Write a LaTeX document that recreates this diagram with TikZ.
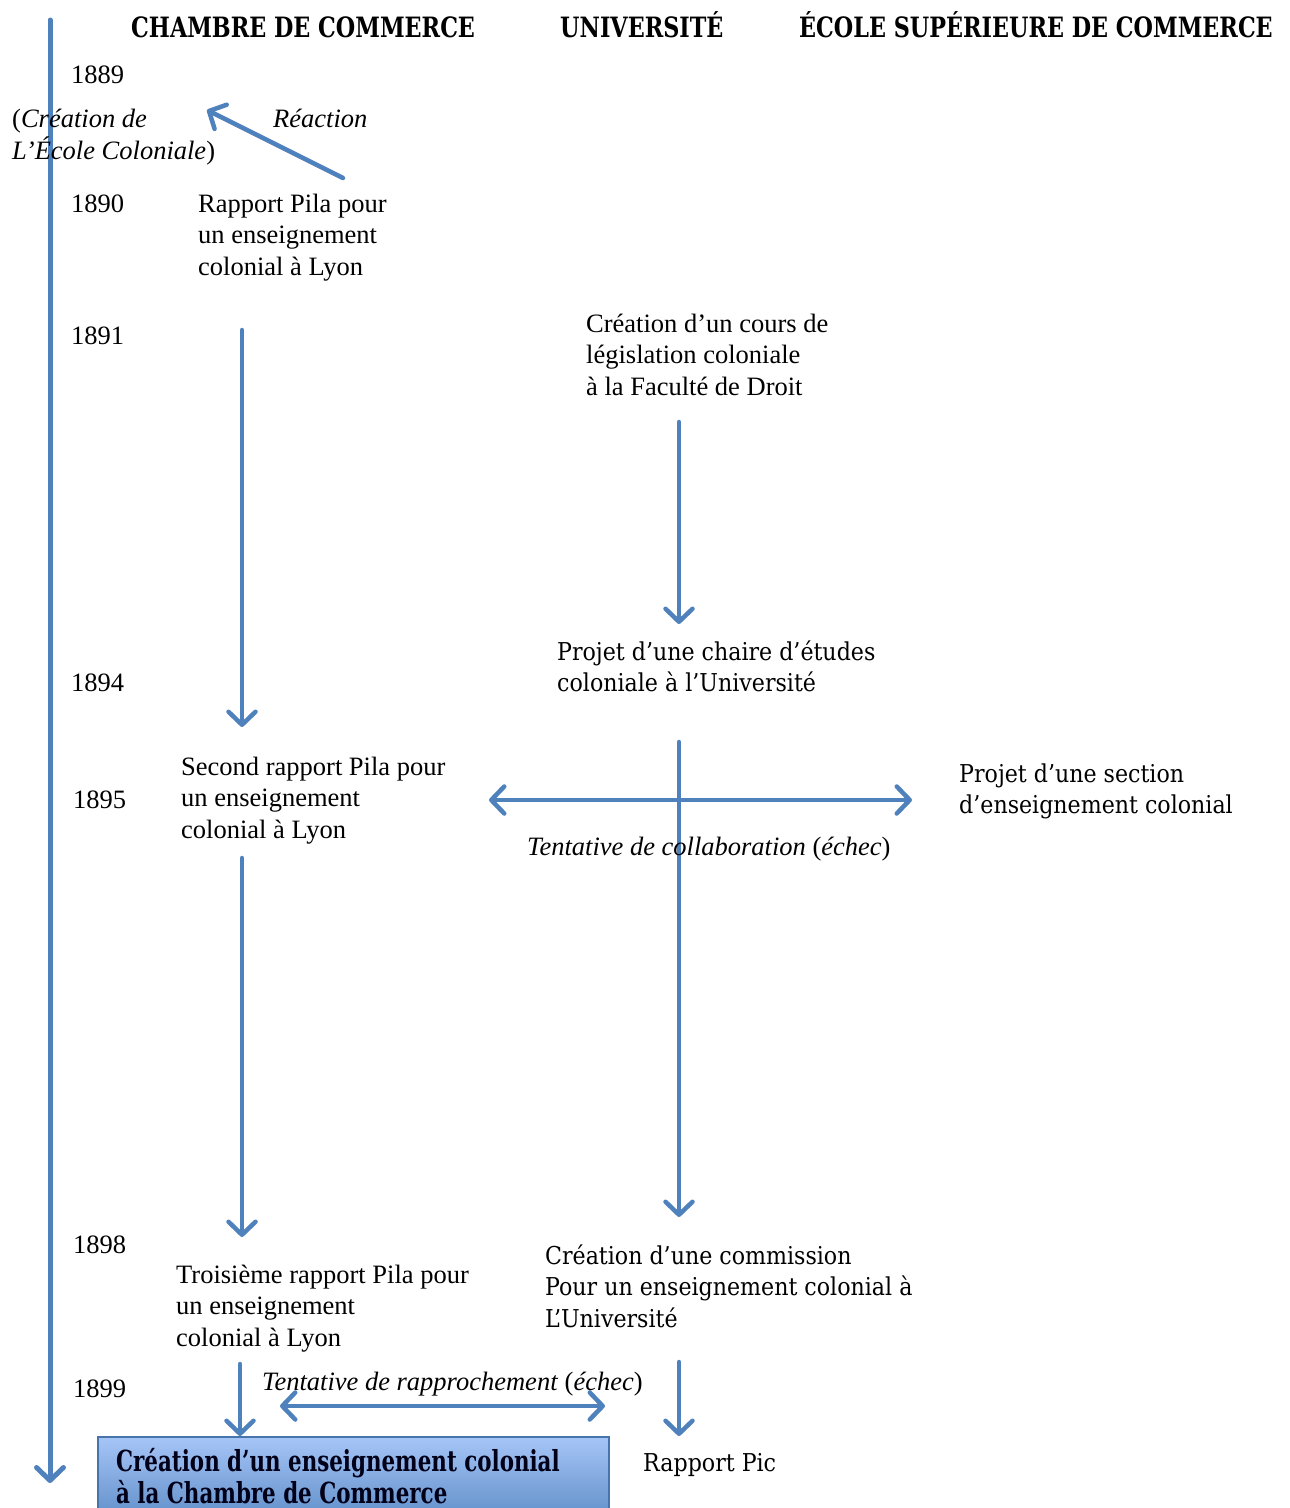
\documentclass[tikz,border=0pt]{standalone}
\usepackage{fontspec}
\setmainfont{Liberation Serif}
\newfontfamily\cambfont{DejaVu Serif Condensed}
\newfontfamily\hdrfont[FakeStretch=0.885]{DejaVu Serif Condensed Bold}
\newfontfamily\boxfont[FakeStretch=0.82]{DejaVu Serif Condensed Bold}
\usetikzlibrary{arrows.meta}
\definecolor{myblue}{HTML}{4F81BD}
\definecolor{boxtop}{HTML}{A6C5F7}
\definecolor{boxbot}{HTML}{4F81BD}
\newcommand\mlines[1]{\begin{tabular}[t]{@{}l@{}}#1\end{tabular}}
\tikzset{
  conn/.style={draw=myblue, line width=4.5pt, line cap=round,
    -{Straight Barb[length=13pt,width=27pt,line cap=round,line join=round]}},
  dconn/.style={draw=myblue, line width=4.5pt, line cap=round,
    {Straight Barb[length=13pt,width=27pt,line cap=round,line join=round]}-{Straight Barb[length=13pt,width=27pt,line cap=round,line join=round]}},
  times/.style={anchor=base west, inner sep=0pt, font=\fontsize{26.5pt}{31.5pt}\selectfont},
  camb/.style={anchor=base west, inner sep=0pt, font=\cambfont\fontsize{24.6pt}{31.5pt}\selectfont},
  hdr/.style={anchor=base west, inner sep=0pt, font=\hdrfont\fontsize{28pt}{30pt}\selectfont},
  yr/.style={times},
}
\begin{document}
\begin{tikzpicture}[x=1pt,y=-1pt]
\useasboundingbox (0,0) rectangle (1290,1508);
\fill[white] (0,0) rectangle (1290,1508);

% headers
\node[hdr] (hcc) at (131,37) {CHAMBRE DE COMMERCE};
\node[hdr] (hun) at (560,37) {UNIVERSITÉ};
\node[hdr] (hesc) at (799,37) {ÉCOLE SUPÉRIEURE DE COMMERCE};

% timeline
\coordinate (tltop) at (50,20);
\coordinate (tlbot) at (50,1483);
\draw[conn, line width=5pt] (tltop) -- (tlbot);

% years
\node[yr] (y1889) at (71,83) {1889};
\node[yr] (y1890) at (71,212) {1890};
\node[yr] (y1891) at (71,344) {1891};
\node[yr] (y1894) at (71,691) {1894};
\node[yr] (y1895) at (73,808) {1895};
\node[yr] (y1898) at (73,1253) {1898};
\node[yr] (y1899) at (73,1397) {1899};

% 1889
\node[times] (ecole) at (12,127) {\mlines{(\textit{Création de}\\\textit{L’École Coloniale})}};
\node[times] (reac) at (273,127) {\textit{Réaction}};
\coordinate (reacA) at (343,178);
\coordinate (reacB) at (207,110);
\draw[conn] (reacA) -- (reacB);

% chambre column
\node[times] (pila1) at (198,212) {\mlines{Rapport Pila pour\\un enseignement\\colonial à Lyon}};
\node[times] (pila2) at (181,775) {\mlines{Second rapport Pila pour\\un enseignement\\colonial à Lyon}};
\node[times] (pila3) at (176,1283) {\mlines{Troisième rapport Pila pour\\un enseignement\\colonial à Lyon}};

\coordinate (c1a) at (242,330); \coordinate (c1b) at (242,727);
\coordinate (c2a) at (242,858); \coordinate (c2b) at (242,1237);
\coordinate (c3a) at (240,1364); \coordinate (c3b) at (240,1436);
\draw[conn] (c1a) -- (c1b);
\draw[conn] (c2a) -- (c2b);
\draw[conn] (c3a) -- (c3b);

% université column
\node[times] (cours) at (586,332) {\mlines{Création d’un cours de\\législation coloniale\\à la Faculté de Droit}};
\node[camb] (chaire) at (557,660) {\mlines{Projet d’une chaire d’études\\coloniale à l’Université}};
\node[camb] (commis) at (545,1264) {\mlines{Création d’une commission\\Pour un enseignement colonial à\\L’Université}};
\node[camb] (pic) at (643,1471) {Rapport Pic};

\coordinate (u1a) at (679,422); \coordinate (u1b) at (679,624);
\coordinate (u2a) at (679,742); \coordinate (u2b) at (679,1217);
\coordinate (u3a) at (679,1362); \coordinate (u3b) at (679,1436);
\draw[conn] (u1a) -- (u1b);
\draw[conn] (u2a) -- (u2b);
\draw[conn] (u3a) -- (u3b);

% ESC
\node[camb] (section) at (959,782) {\mlines{Projet d’une section\\d’enseignement colonial}};

% collaboration
\coordinate (colA) at (489,800); \coordinate (colB) at (912,800);
\draw[dconn] (colA) -- (colB);
\node[times] (collab) at (527,855) {\textit{Tentative de collaboration} (\textit{échec})};

% rapprochement
\coordinate (rapA) at (280,1406); \coordinate (rapB) at (605,1406);
\draw[dconn] (rapA) -- (rapB);
\node[times] (rappro) at (262,1390) {\textit{Tentative de rapprochement} (\textit{échec})};

% final box
\shade[top color=boxtop, bottom color=boxbot, draw=myblue!90!black, line width=1.2pt]
  (98,1437) rectangle (609,1540);
\node[anchor=base west, inner sep=0pt, font=\boxfont\fontsize{29pt}{31pt}\selectfont, text=black!90!blue] (final) at (116,1471)
  {\mlines{Création d’un enseignement colonial\\à la Chambre de Commerce}};
\end{tikzpicture}
\end{document}
